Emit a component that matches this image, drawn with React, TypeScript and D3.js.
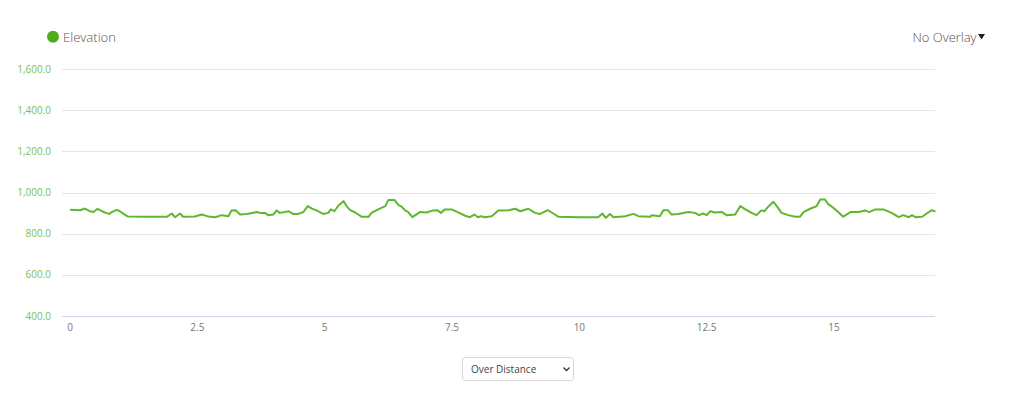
import React from "react";
import * as d3 from "d3";

const distanceKm: number[] = [
  0.0, 0.2, 0.29, 0.39, 0.46, 0.54, 0.63, 0.7, 0.77, 0.82, 0.92, 0.98, 1.05, 1.14, 1.47, 1.9,
  2.0, 2.06, 2.16, 2.22, 2.45, 2.59, 2.72, 2.85, 2.98, 3.11, 3.17, 3.25, 3.34, 3.47, 3.67, 3.73,
  3.83, 3.89, 3.99, 4.06, 4.12, 4.22, 4.29, 4.38, 4.48, 4.58, 4.67, 4.75, 4.84, 4.97, 5.07, 5.12,
  5.19, 5.27, 5.37, 5.43, 5.5, 5.6, 5.73, 5.86, 5.92, 6.05, 6.19, 6.25, 6.37, 6.45, 6.51, 6.58,
  6.64, 6.72, 6.87, 7.0, 7.13, 7.22, 7.28, 7.36, 7.49, 7.62, 7.76, 7.85, 7.94, 8.01, 8.07, 8.15,
  8.28, 8.41, 8.61, 8.74, 8.84, 9.0, 9.13, 9.23, 9.38, 9.49, 9.59, 10.01, 10.37, 10.45, 10.52, 10.6,
  10.67, 10.9, 11.06, 11.16, 11.39, 11.42, 11.58, 11.65, 11.74, 11.81, 11.94, 12.14, 12.27, 12.35,
  12.43, 12.5, 12.57, 12.66, 12.8, 12.89, 13.06, 13.16, 13.26, 13.38, 13.48, 13.57, 13.63, 13.71,
  13.81, 13.89, 13.97, 14.1, 14.24, 14.33, 14.4, 14.53, 14.66, 14.73, 14.82, 14.89, 14.96, 15.05,
  15.18, 15.32, 15.48, 15.61, 15.69, 15.81, 15.97, 16.13, 16.27, 16.36, 16.47, 16.53, 16.6, 16.73,
  16.86, 16.92, 16.99,
];

const elevationM: number[] = [
  916, 914, 922, 909, 905, 921, 909, 901, 896, 905, 916, 909, 896, 883, 882, 882,
  898, 880, 898, 882, 883, 893, 883, 880, 890, 885, 913, 914, 893, 896, 905, 901,
  901, 890, 893, 913, 901, 905, 909, 896, 896, 905, 934, 922, 913, 896, 901, 918,
  909, 937, 958, 934, 914, 903, 882, 882, 901, 918, 934, 964, 964, 939, 931, 913,
  905, 880, 905, 903, 913, 914, 901, 918, 918, 903, 887, 880, 893, 880, 885, 880,
  885, 913, 914, 921, 909, 921, 901, 896, 914, 898, 882, 880, 880, 898, 877, 896,
  880, 885, 896, 885, 882, 890, 885, 914, 914, 893, 896, 905, 901, 890,
  898, 890, 909, 903, 905, 890, 893, 934, 918, 901, 890, 913, 909, 931,
  955, 929, 901, 890, 882, 882, 905, 921, 934, 966, 966, 942, 931, 913,
  882, 905, 905, 913, 905, 918, 918, 901, 880, 890, 880, 890, 880, 882,
  905, 914, 908,
];

const yTicks: number[] = [400, 600, 800, 1000, 1200, 1400, 1600];
const xTicks: number[] = [0, 2.5, 5, 7.5, 10, 12.5, 15];
const seriesName = "Elevation";
const overlayLabel = "No Overlay";
const modeLabel = "Over Distance";

export default function App() {
  const W = 1022;
  const H = 399;
  const plotLeft = 62;
  const plotRight = 935;
  const x = d3.scaleLinear().domain([0, 17]).range([70, 935.9]);
  const y = d3.scaleLinear().domain([400, 1600]).range([316, 69]);
  const pts = distanceKm.map((d, i) => [d, elevationM[i]] as [number, number]);
  const line = d3
    .line<[number, number]>()
    .x((d) => x(d[0]))
    .y((d) => y(d[1]));
  const yFmt = (v: number) => d3.format(",.1f")(v);
  const font = "'Open Sans', sans-serif";

  return (
    <svg
      width={W}
      height={H}
      style={{ position: "absolute", left: 0, top: 0, fontFamily: font }}
    >
      <rect width={W} height={H} fill="#fff" />
      {/* legend */}
      <circle cx={53} cy={36.7} r={6} fill="#52ab1f" />
      <text
        x={63}
        y={41.5}
        fontSize={13.5}
        fill="#555"
        fontWeight={300}
        textLength={53}
        lengthAdjust="spacingAndGlyphs"
      >
        {seriesName}
      </text>
      <text
        x={912.5}
        y={41.5}
        fontSize={13.5}
        fill="#5a4b4b"
        fontWeight={300}
        textLength={64}
        lengthAdjust="spacingAndGlyphs"
      >
        {overlayLabel}
      </text>
      <path d="M978,34 L985,34 L981.5,39.5 Z" fill="#222" />

      {/* grid */}
      {yTicks.map((t) => (
        <g key={t}>
          <line
            x1={plotLeft}
            x2={plotRight}
            y1={Math.round(y(t)) + 0.5}
            y2={Math.round(y(t)) + 0.5}
            stroke={t === 400 ? "#ccd6eb" : "#e6e6e6"}
            strokeWidth={1}
          />
          <text
            x={51}
            y={y(t) + 3.5}
            textAnchor="end"
            fontSize={10}
            fill="#7cc242"
          >
            {yFmt(t)}
          </text>
        </g>
      ))}
      {xTicks.map((t) => (
        <text
          key={t}
          x={x(t)}
          y={331}
          textAnchor="middle"
          fontSize={10}
          fill="#777"
        >
          {String(t)}
        </text>
      ))}

      <path
        d={line(pts) || ""}
        fill="none"
        stroke="#5db82e"
        strokeWidth={2}
        strokeLinejoin="round"
      />

      {/* select */}
      <rect
        x={462.5}
        y={357.5}
        width={111}
        height={23}
        rx={3}
        fill="#fff"
        stroke="#d6d6d6"
      />
      <text x={471} y={372.5} fontSize={10} fill="#444">
        {modeLabel}
      </text>
      <path
        d="M563.5,367.5 L566.5,370.5 L569.5,367.5"
        fill="none"
        stroke="#333"
        strokeWidth={1.3}
      />
    </svg>
  );
}
